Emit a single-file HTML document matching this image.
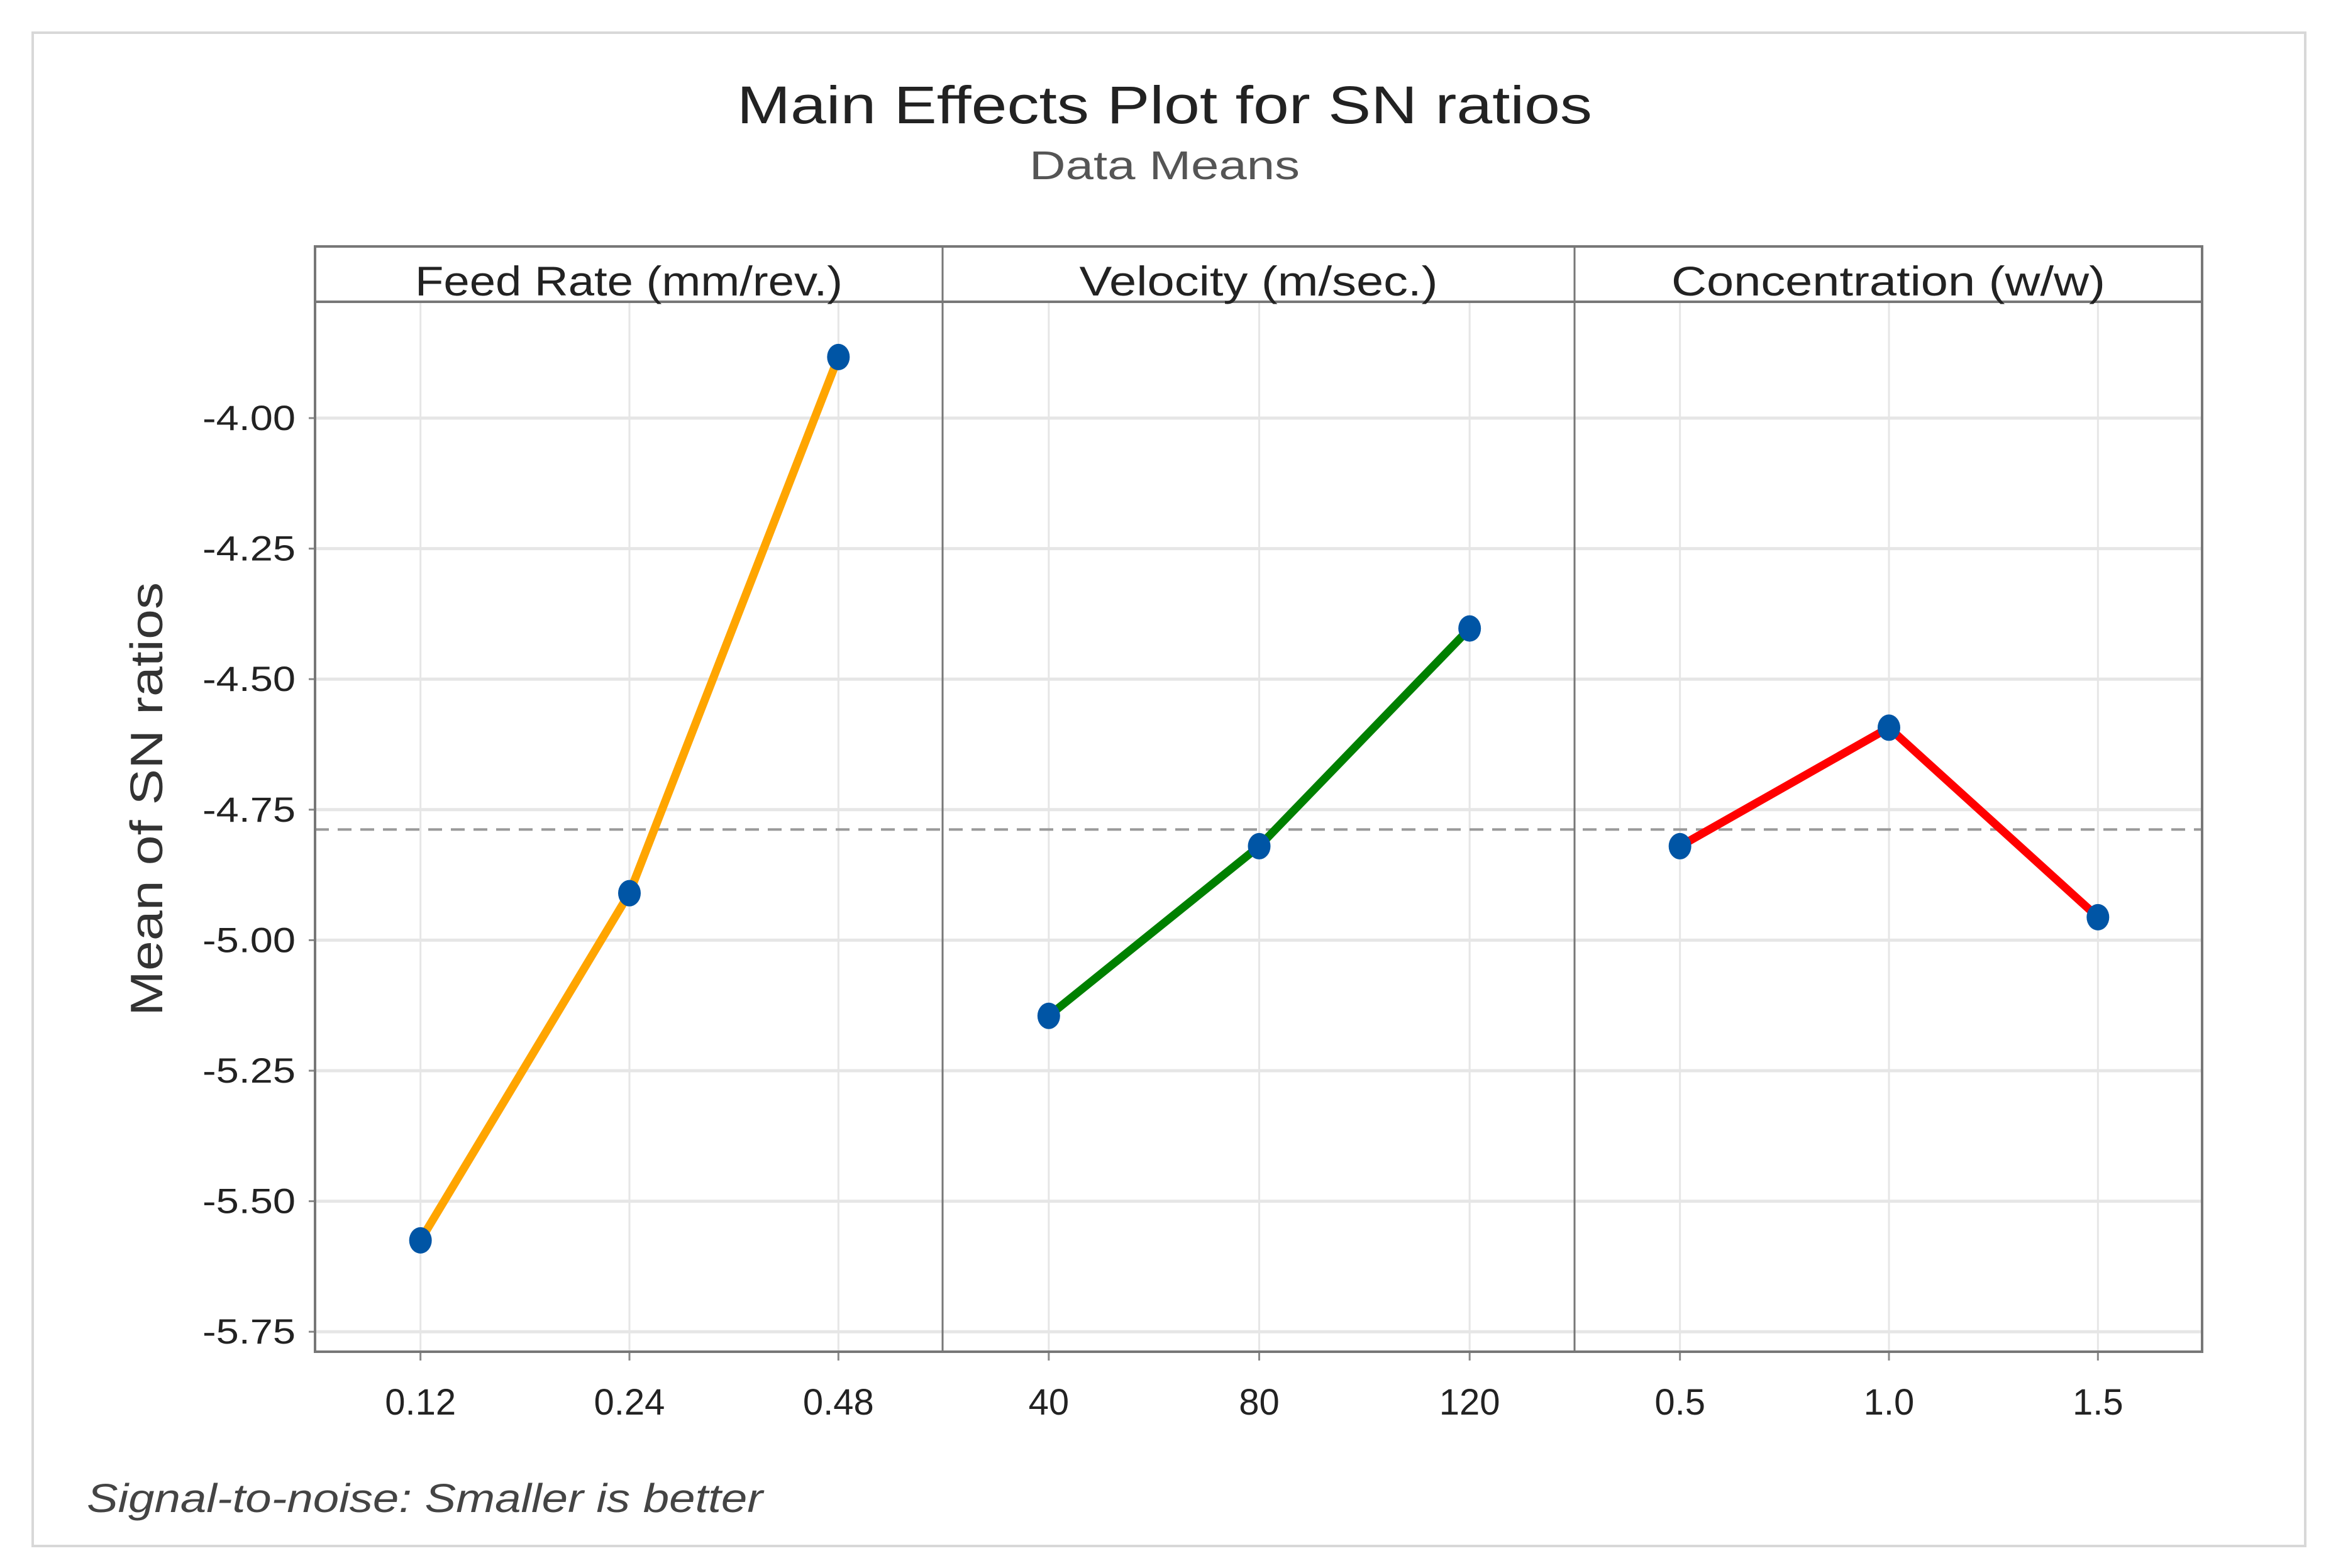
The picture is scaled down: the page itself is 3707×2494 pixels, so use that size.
<!DOCTYPE html>
<html><head><meta charset="utf-8"><style>
html,body{margin:0;padding:0;background:#fff;}
svg{display:block;font-family:"Liberation Sans",sans-serif;}
</style></head>
<body>
<svg id="chart" width="3707" height="2494" viewBox="0 0 3707 2494" xmlns="http://www.w3.org/2000/svg">
<rect x="52" y="52" width="3614" height="2407" fill="#fff" stroke="#d8d8d8" stroke-width="4"/>
<text x="1852" y="196" text-anchor="middle" font-size="84" fill="#222" textLength="1360" lengthAdjust="spacingAndGlyphs">Main Effects Plot for SN ratios</text>
<text x="1852" y="285" text-anchor="middle" font-size="64" fill="#555" textLength="430" lengthAdjust="spacingAndGlyphs">Data Means</text>
<text transform="translate(258,1271) rotate(-90)" text-anchor="middle" font-size="72" fill="#333" textLength="690" lengthAdjust="spacingAndGlyphs">Mean of SN ratios</text>
<text x="138" y="2405" font-size="64" font-style="italic" fill="#444" textLength="1075" lengthAdjust="spacingAndGlyphs">Signal-to-noise: Smaller is better</text>
<g id="plot"></g>
</svg>
<script>
const panelNames = ["Feed Rate (mm/rev.)", "Velocity (m/sec.)", "Concentration (w/w)"];
const levelLabels = [["0.12","0.24","0.48"],["40","80","120"],["0.5","1.0","1.5"]];
const feedValues = [-5.575, -4.91, -3.883];
const velocityValues = [-5.145, -4.82, -4.403];
const concValues = [-4.82, -4.593, -4.956];
const overallMean = -4.788;
const yTicks = [-4.00, -4.25, -4.50, -4.75, -5.00, -5.25, -5.50, -5.75];
const lineColors = ["#FFA500", "#008000", "#FF0000"];

const NS = "http://www.w3.org/2000/svg";
const g = document.getElementById('plot');
const panelX = [501, 1499, 2504, 3502];
const stripTop = 392, plotTop = 480, plotBottom = 2150;
function yScale(v){ return 665 + (-4 - v) / 0.25 * 207.6; }
function xScale(p, i){ const w = panelX[p+1]-panelX[p]; return panelX[p] + w*(0.168 + i*0.333); }
function mk(tag, attrs){ const e = document.createElementNS(NS, tag); for (const k in attrs) e.setAttribute(k, attrs[k]); g.appendChild(e); return e; }
const series = [feedValues, velocityValues, concValues];

yTicks.forEach((t) => {
  const y = yScale(t);
  const l = mk('line', {x1: panelX[0], x2: panelX[3], y1: y, y2: y, stroke: '#e6e6e6', 'stroke-width': 5});
  
  
  const tk = mk('line', {x1: panelX[0]-10, x2: panelX[0], y1: y, y2: y, stroke: '#888', 'stroke-width': 3});
  
  
  const tx = mk('text', {x: 470, y: y + 19, 'text-anchor': 'end', 'font-size': 56, fill: '#222', textLength: 148, lengthAdjust: 'spacingAndGlyphs'});
  tx.textContent = t.toFixed(2);
  
  
});
for (let p = 0; p < 3; p++) {
  for (let i = 0; i < 3; i++) {
    const x = xScale(p, i);
    const l = mk('line', {x1: x, x2: x, y1: plotTop, y2: plotBottom, stroke: '#e6e6e6', 'stroke-width': 3});
    
    
    const tk = mk('line', {x1: x, x2: x, y1: plotBottom, y2: plotBottom + 14, stroke: '#888', 'stroke-width': 3});
    
    
    const tx = mk('text', {x: x, y: 2250, 'text-anchor': 'middle', 'font-size': 58, fill: '#222'});
    tx.textContent = levelLabels[p][i];
    
    
  }
}
const ml = mk('line', {x1: panelX[0], x2: panelX[3], y1: yScale(overallMean), y2: yScale(overallMean), stroke: '#999', 'stroke-width': 4, 'stroke-dasharray': '22 14'});


const fr = mk('rect', {x: panelX[0], y: stripTop, width: panelX[3]-panelX[0], height: plotBottom-stripTop, fill: 'none', stroke: '#777', 'stroke-width': 4});


const sl = mk('line', {x1: panelX[0], x2: panelX[3], y1: plotTop, y2: plotTop, stroke: '#777', 'stroke-width': 4});


for (let p = 0; p < 3; p++) {
  if (p > 0) {
    const d = mk('line', {x1: panelX[p], x2: panelX[p], y1: stripTop, y2: plotBottom, stroke: '#777', 'stroke-width': 3});
    
    
  }
  const st = mk('text', {x: (panelX[p]+panelX[p+1])/2, y: 470, 'text-anchor': 'middle', 'font-size': 66, fill: '#222', textLength: [680, 570, 690][p], lengthAdjust: 'spacingAndGlyphs'});
  st.textContent = panelNames[p];
  
  
}
series.forEach((vals, p) => {
  const pts = vals.map((v, i) => xScale(p, i) + ',' + yScale(v)).join(' ');
  const pl = mk('polyline', {points: pts, fill: 'none', stroke: lineColors[p], 'stroke-width': 13, 'stroke-linejoin': 'round'});
  
  
  vals.forEach((v, i) => {
    const c = mk('ellipse', {cx: xScale(p, i), cy: yScale(v), rx: 18, ry: 21, fill: '#0055A5'});
    
    
  });
});
</script>
</body></html>
